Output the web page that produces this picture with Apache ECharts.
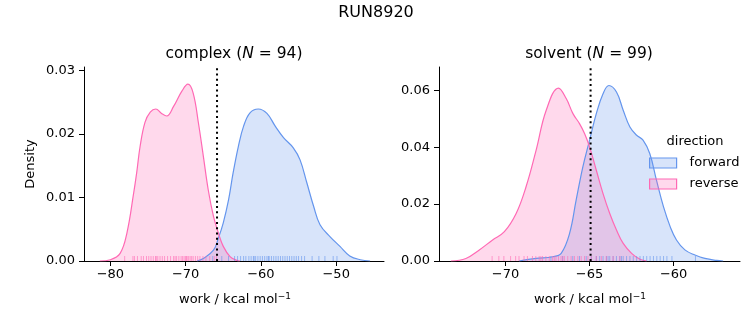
<!DOCTYPE html>
<html>
<head>
<meta charset="utf-8">
<script src="https://cdn.jsdelivr.net/npm/echarts@6/dist/echarts.min.js"></script>
<style>html,body{margin:0;padding:0;background:#fff}#c{width:753px;height:325px}</style>
</head>
<body>
<div id="c"></div>
<script>
// ---- data ----
const complexReverseX = [-81.4,-80.0,-78.7,-77.8,-76.9,-76.5,-76.05,-75.4,-74.7,-73.97,-73.2,-72.5,-71.6,-70.5,-69.7,-69.0,-68.3,-67.65,-67.0,-66.3,-65.65,-65.0,-64.1,-63.2,-62.8];
const complexReverseY = [0,0.0002,0.0012,0.0044,0.0107,0.0139,0.018,0.0218,0.0234,0.0239,0.0232,0.0228,0.0243,0.0267,0.0278,0.0264,0.0217,0.0165,0.0112,0.007,0.0044,0.0023,0.0007,0.0001,0];
const complexForwardX = [-68.5,-67.65,-66.3,-65.65,-65.0,-64.3,-63.7,-63.0,-62.3,-61.45,-60.35,-59.2,-58.1,-57.0,-55.7,-54.8,-53.9,-53.0,-52.15,-50.8,-49.5,-48.2,-46.8,-45.5];
const complexForwardY = [0,0.0004,0.0017,0.0036,0.006,0.0096,0.0138,0.018,0.0212,0.0233,0.0239,0.0232,0.0212,0.0194,0.0178,0.0159,0.0123,0.0086,0.0057,0.0038,0.0023,0.0008,0.0002,0];
const solventReverseX = [-73.25,-72.36,-71.56,-70.77,-70.07,-69.37,-68.78,-68.18,-67.58,-66.85,-66.39,-65.99,-65.6,-65.3,-65.0,-64.6,-64.2,-63.8,-63.4,-63.0,-62.5,-62.0,-61.6];
const solventReverseY = [0,0.0009,0.0039,0.0074,0.0103,0.0167,0.0261,0.039,0.053,0.0608,0.0571,0.0518,0.0483,0.0448,0.0401,0.0319,0.0237,0.0167,0.0109,0.0062,0.0027,0.0006,0];
const solventForwardX = [-69.2,-68.18,-67.19,-66.69,-66.19,-65.8,-65.4,-65.0,-64.6,-64.2,-63.85,-63.4,-63.0,-62.6,-62.2,-61.82,-61.42,-61.02,-60.6,-60.2,-59.83,-59.33,-58.73,-58.14,-57.44,-57.05];
const solventForwardY = [0,0.0009,0.0015,0.0027,0.0097,0.0214,0.0331,0.0425,0.0518,0.0588,0.0617,0.0594,0.053,0.0471,0.0442,0.0425,0.0378,0.0284,0.019,0.012,0.0074,0.0039,0.0021,0.0009,0.0002,0];

const complexReverseRug = [-78.1,-77.0,-76.8,-76.4,-75.9,-75.6,-75.2,-74.9,-74.6,-74.3,-74.0,-73.9,-73.7,-73.4,-73.1,-72.8,-72.4,-72.0,-71.6,-71.4,-71.2,-70.9,-70.6,-70.4,-70.2,-70.0,-69.9,-69.8,-69.6,-69.4,-69.2,-69.0,-68.7,-68.4,-68.1,-67.7,-67.3,-66.8,-66.2,-65.9];
const complexForwardRug = [-66.4,-65.2,-64.3,-63.5,-63.1,-62.7,-62.3,-62.0,-61.6,-61.3,-61.0,-60.9,-60.7,-60.4,-60.1,-59.8,-59.5,-59.2,-59.0,-58.9,-58.6,-58.3,-58.0,-57.7,-57.4,-57.1,-56.8,-56.5,-56.2,-55.9,-55.6,-55.3,-55.0,-54.6,-54.2,-53.2,-52.3,-51.5,-50.4,-49.9];
const solventReverseRug = [-70.8,-70.4,-70.1,-69.7,-69.4,-69.2,-68.9,-68.7,-68.4,-68.2,-68.0,-67.9,-67.8,-67.6,-67.4,-67.2,-67.1,-67.0,-66.85,-66.7,-66.6,-66.5,-66.3,-66.1,-65.9,-65.7,-65.5,-65.3,-65.1,-64.9,-64.6,-64.3,-64.0,-63.6,-63.2];
const solventForwardRug = [-67.3,-66.6,-66.0,-65.6,-65.2,-64.9,-64.6,-64.4,-64.2,-64.0,-63.9,-63.8,-63.6,-63.4,-63.2,-63.1,-63.0,-62.8,-62.6,-62.4,-62.2,-62.0,-61.8,-61.6,-61.4,-61.2,-61.0,-60.8,-60.6,-60.4,-60.1,-58.7];

const complexEstimate = -65.83;
const solventEstimate = -64.94;

const complexXTicks = [-80,-70,-60,-50];
const solventXTicks = [-70,-65,-60];
const complexYTicks = [0,0.01,0.02,0.03];
const solventYTicks = [0,0.02,0.04,0.06];

const legendNames = ['forward','reverse'];
const suptitle = 'RUN8920';

// ---- drawing ----
const BLUE = '#6495ED', PINK = '#FF69B4';
const FONT = 'DejaVu Sans';
const zip = (xs, ys) => xs.map((x, i) => [x, ys[i]]);
const minus = v => (v < 0 ? '\u2212' : '') + Math.abs(v);

function xAxis(idx, min, max, ticks) {
  return {
    type: 'value', gridIndex: idx, min, max,
    axisLine: {show: true, onZero: false, lineStyle: {color: '#000', width: 1}},
    axisTick: {show: true, length: 5, lineStyle: {color: '#000'}, customValues: ticks},
    axisLabel: {margin: 7, color: '#000', fontFamily: FONT, fontSize: 13, customValues: ticks, formatter: minus},
    splitLine: {show: false}
  };
}
function yAxis(idx, max, ticks) {
  return {
    type: 'value', gridIndex: idx, min: 0, max,
    axisLine: {show: true, lineStyle: {color: '#000', width: 1}},
    axisTick: {show: true, length: 5, lineStyle: {color: '#000'}, customValues: ticks},
    axisLabel: {margin: 9, color: '#000', fontFamily: FONT, fontSize: 13, customValues: ticks, formatter: v => v.toFixed(2)},
    splitLine: {show: false}
  };
}
function kde(name, idx, xs, ys, color, fill) {
  return {
    name, type: 'line', xAxisIndex: idx, yAxisIndex: idx,
    data: zip(xs, ys), smooth: 0.4, symbol: 'none',
    lineStyle: {color, width: 1.2}, itemStyle: {color},
    areaStyle: {color: fill, origin: 'start', opacity: 1}, z: 2
  };
}
function rug(name, idx, xs, color) {
  return {
    name, type: 'scatter', xAxisIndex: idx, yAxisIndex: idx,
    data: xs.map(x => [x, 0]), symbol: 'rect', symbolSize: [1, 5], symbolOffset: [0, -2.5],
    itemStyle: {color, opacity: 0.6}, z: 3, silent: true, clip: false
  };
}
function vline(idx, x, ymax) {
  return {
    type: 'line', xAxisIndex: idx, yAxisIndex: idx, data: [[x, 0], [x, ymax]],
    symbol: 'none', lineStyle: {color: '#000', width: 2, type: [2, 3.3]}, z: 5, silent: true
  };
}
function xLabel(cx) {
  return {type: 'text', x: cx, y: 300, style: {
    text: 'work / kcal mol{sup|\u22121}', fontFamily: FONT, fontSize: 13, lineHeight: 16, fill: '#000',
    align: 'center', verticalAlign: 'middle',
    rich: {sup: {fontFamily: FONT, fontSize: 9, lineHeight: 9, verticalAlign: 'top', fill: '#000'}}
  }};
}

const chart = echarts.init(document.getElementById('c'), null, {renderer: 'canvas'});
const blueFill = 'rgba(100,149,237,0.25)', pinkFill = 'rgba(255,105,180,0.25)';
chart.setOption({
  animation: false,
  backgroundColor: '#fff',
  grid: [
    {left: 84, top: 67, width: 300, height: 194},
    {left: 439, top: 67, width: 301, height: 194}
  ],
  xAxis: [xAxis(0, -83.5, -43.65, complexXTicks), xAxis(1, -73.96, -56.05, solventXTicks)],
  yAxis: [yAxis(0, 0.0305, complexYTicks), yAxis(1, 0.0682, solventYTicks)],
  legend: {
    orient: 'vertical', left: 649, top: 155, padding: 0, itemWidth: 27, itemHeight: 10, itemGap: 5,
    textStyle: {fontFamily: FONT, fontSize: 13, color: '#000', lineHeight: 16, padding: [0, 0, 0, 8]},
    data: [
      {name: legendNames[0], icon: 'rect', itemStyle: {color: blueFill, borderColor: BLUE, borderWidth: 1.2}},
      {name: legendNames[1], icon: 'rect', itemStyle: {color: pinkFill, borderColor: PINK, borderWidth: 1.2}}
    ]
  },
  graphic: [
    {type: 'text', x: 376, y: 13, style: {text: suptitle, font: '16px "DejaVu Sans"', fill: '#000', align: 'center', verticalAlign: 'middle'}},
    {type: 'text', x: 234, y: 54, style: {text: 'complex ({i|N} = 94)', font: '15.5px "DejaVu Sans"', fill: '#000', align: 'center', verticalAlign: 'middle', rich: {i: {fontStyle: 'italic', fontFamily: FONT, fontSize: 15.5}}}},
    {type: 'text', x: 589, y: 54, style: {text: 'solvent ({i|N} = 99)', font: '15.5px "DejaVu Sans"', fill: '#000', align: 'center', verticalAlign: 'middle', rich: {i: {fontStyle: 'italic', fontFamily: FONT, fontSize: 15.5}}}},
    {type: 'text', x: 31, y: 164, rotation: Math.PI / 2, style: {text: 'Density', font: '13px "DejaVu Sans"', fill: '#000', align: 'center', verticalAlign: 'middle'}},
    xLabel(235),
    xLabel(590),
    {type: 'text', x: 695, y: 142, style: {text: 'direction', font: '13px "DejaVu Sans"', fill: '#000', align: 'center', verticalAlign: 'middle'}}
  ],
  series: [
    kde('forward', 0, complexForwardX, complexForwardY, BLUE, blueFill),
    kde('reverse', 0, complexReverseX, complexReverseY, PINK, pinkFill),
    rug('forward', 0, complexForwardRug, BLUE),
    rug('reverse', 0, complexReverseRug, PINK),
    vline(0, complexEstimate, 0.0305),
    kde('forward', 1, solventForwardX, solventForwardY, BLUE, blueFill),
    kde('reverse', 1, solventReverseX, solventReverseY, PINK, pinkFill),
    rug('forward', 1, solventForwardRug, BLUE),
    rug('reverse', 1, solventReverseRug, PINK),
    vline(1, solventEstimate, 0.0682)
  ]
});
</script>
</body>
</html>
